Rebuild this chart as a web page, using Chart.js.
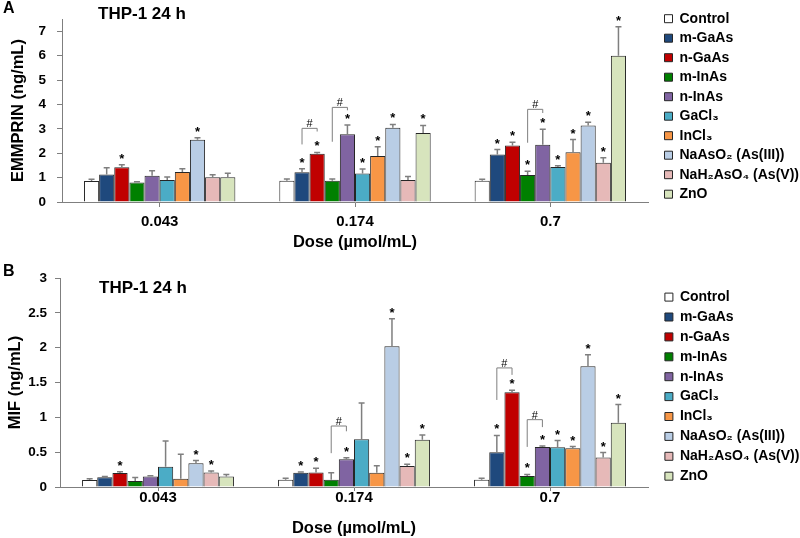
<!DOCTYPE html>
<html>
<head>
<meta charset="UTF-8">
<title>THP-1 24 h: EMMPRIN and MIF</title>
<script src="https://cdn.jsdelivr.net/npm/chart.js@4"></script>
<style>
  body { margin: 0; background: #fff; }
  canvas { display: block; }
</style>
</head>
<body>
<canvas id="emmprinChart" width="800" height="262"></canvas>
<canvas id="mifChart" width="800" height="276"></canvas>
<script>
const doses = ['0.043', '0.174', '0.7'];
const treatments = ['Control', 'm-GaAs', 'n-GaAs', 'm-InAs', 'n-InAs', 'GaCl₃', 'InCl₃',
  'NaAsO₂ (As(III))', 'NaH₂AsO₄ (As(V))', 'ZnO'];
const colors = ['#FFFFFF', '#1F497D', '#C00000', '#008000', '#8064A2', '#4BACC6', '#F79646',
  '#B9CDE5', '#E6B9B8', '#D7E4BD'];

// one row per treatment, one column per dose
const emmprinMean = [
  [0.86, 0.87, 0.87],
  [1.13, 1.22, 1.95],
  [1.43, 1.98, 2.32],
  [0.80, 0.87, 1.11],
  [1.08, 2.78, 2.35],
  [0.90, 1.17, 1.44],
  [1.23, 1.89, 2.04],
  [2.55, 3.04, 3.14],
  [1.01, 0.90, 1.61],
  [1.01, 2.83, 6.00]
];
const emmprinErr = [
  [0.07, 0.07, 0.06],
  [0.27, 0.14, 0.20],
  [0.10, 0.05, 0.13],
  [0.03, 0.07, 0.15],
  [0.20, 0.38, 0.63],
  [0.13, 0.18, 0.05],
  [0.13, 0.38, 0.52],
  [0.08, 0.14, 0.13],
  [0.11, 0.15, 0.20],
  [0.17, 0.31, 1.19]
];
// treatments marked * at each dose
const emmprinStars = [[2, 7], [1, 2, 4, 5, 6, 7, 9], [1, 2, 3, 4, 5, 6, 7, 8, 9]];
// # brackets: dose, from, to, top, left end, right end
const emmprinBrackets = [
  [1, 1, 2, 3.02, 2.36, 2.89],
  [1, 3, 4, 3.88, 2.47, 3.76],
  [2, 3, 4, 3.80, 2.43, 3.65]
];

const mifMean = [
  [0.100, 0.105, 0.105],
  [0.140, 0.205, 0.500],
  [0.200, 0.210, 1.360],
  [0.085, 0.105, 0.157],
  [0.150, 0.400, 0.576],
  [0.290, 0.686, 0.571],
  [0.120, 0.205, 0.557],
  [0.340, 2.020, 1.733],
  [0.210, 0.300, 0.424],
  [0.150, 0.680, 0.924]
];
const mifErr = [
  [0.02, 0.02, 0.02],
  [0.01, 0.01, 0.24],
  [0.02, 0.06, 0.03],
  [0.05, 0.10, 0.024],
  [0.01, 0.02, 0.014],
  [0.37, 0.52, 0.095],
  [0.35, 0.10, 0.024],
  [0.04, 0.395, 0.167],
  [0.02, 0.025, 0.07],
  [0.03, 0.067, 0.26]
];
const mifStars = [[2, 7, 8], [1, 2, 4, 7, 8, 9], [1, 2, 3, 4, 5, 6, 7, 8, 9]];
const mifBrackets = [
  [1, 3, 4, 0.876, 0.486, 0.80],
  [2, 1, 2, 1.71, 1.25, 1.61],
  [2, 3, 4, 0.967, 0.576, 0.86]
];

const FONT = '"Liberation Sans", Arial, sans-serif';
const AXIS_GREY = '#7f7f7f';
Chart.defaults.font.family = FONT;
Chart.defaults.color = '#000';

// error bars, stars and # brackets
const marks = {
  id: 'marks',
  afterDatasetsDraw(chart, args, opts) {
    const ctx = chart.ctx;
    const y = chart.scales.y;
    const topOf = (i, j) => {
      const ds = chart.data.datasets[i];
      return y.getPixelForValue(ds.data[j] + ds.err[j]);
    };
    ctx.save();
    ctx.strokeStyle = AXIS_GREY;
    ctx.lineWidth = 1.5;
    chart.data.datasets.forEach((ds, i) => {
      chart.getDatasetMeta(i).data.forEach((bar, j) => {
        const top = topOf(i, j);
        ctx.beginPath();
        ctx.moveTo(bar.x, bar.y);
        ctx.lineTo(bar.x, top);
        ctx.moveTo(bar.x - 3, top);
        ctx.lineTo(bar.x + 3, top);
        ctx.stroke();
      });
    });

    ctx.fillStyle = '#000';
    ctx.textAlign = 'center';
    ctx.textBaseline = 'alphabetic';
    ctx.font = 'bold 13px ' + FONT;
    opts.stars.forEach((list, j) => {
      list.forEach(i => {
        const bar = chart.getDatasetMeta(i).data[j];
        ctx.fillText('*', bar.x, topOf(i, j) - 2);
      });
    });

    ctx.lineWidth = 1;
    ctx.font = '11px ' + FONT;
    opts.brackets.forEach(([j, a, b, top, leftEnd, rightEnd]) => {
      const xa = chart.getDatasetMeta(a).data[j].x;
      const xb = chart.getDatasetMeta(b).data[j].x;
      const yt = y.getPixelForValue(top);
      ctx.beginPath();
      ctx.moveTo(xa, y.getPixelForValue(leftEnd));
      ctx.lineTo(xa, yt);
      ctx.lineTo(xb, yt);
      ctx.lineTo(xb, y.getPixelForValue(rightEnd));
      ctx.stroke();
      ctx.fillText('#', (xa + xb) / 2, yt - 1);
    });
    ctx.restore();
  }
};

const panelText = {
  id: 'panelText',
  afterDraw(chart, args, opts) {
    const ctx = chart.ctx;
    ctx.save();
    ctx.fillStyle = '#000';
    ctx.textAlign = 'left';
    ctx.textBaseline = 'middle';
    ctx.font = 'bold 16px ' + FONT;
    ctx.fillText(opts.letter, 3, opts.letterY);
    ctx.font = 'bold 17px ' + FONT;
    ctx.fillText('THP-1 24 h', opts.titleX, opts.titleY);
    ctx.restore();
  }
};

function makeChart(id, means, errs, stars, brackets, cfg) {
  const datasets = treatments.map((name, i) => ({
    label: name,
    data: means[i],
    err: errs[i],
    yAxisID: 'y',
    backgroundColor: colors[i],
    borderColor: '#262626',
    borderWidth: 1,
    categoryPercentage: 0.775,
    barPercentage: 1.0
  }));

  return new Chart(document.getElementById(id), {
    type: 'bar',
    data: { labels: doses, datasets: datasets },
    plugins: [marks, panelText],
    options: {
      responsive: false,
      animation: false,
      layout: { padding: { top: cfg.padTop, right: 0, bottom: 0, left: 0 } },
      scales: {
        x: {
          grid: { display: true, drawOnChartArea: false, offset: false, tickLength: cfg.xTickLen, color: AXIS_GREY },
          border: { color: AXIS_GREY },
          ticks: { font: { size: 15, weight: 'bold' }, padding: cfg.xTickPad, color: '#000' },
          title: { display: true, text: 'Dose (µmol/mL)', font: { size: 16.5, weight: 'bold' },
                   padding: { top: 0, bottom: cfg.xTitlePad }, color: '#000' },
          afterFit: s => { s.height = cfg.xHeight; }
        },
        y: {
          min: 0,
          max: cfg.max,
          grid: { display: true, drawOnChartArea: false, tickLength: 5, color: AXIS_GREY },
          border: { color: AXIS_GREY },
          ticks: { stepSize: cfg.step, includeBounds: false, font: { size: 13.5, weight: 'bold' },
                   padding: cfg.yTickPad, color: '#000', callback: v => String(v) },
          title: { display: true, text: cfg.yTitle, font: { size: 16.5, weight: 'bold' },
                   padding: { top: cfg.yTitlePad, bottom: 0 }, color: '#000' },
          afterFit: s => { s.width = cfg.yWidth; }
        },
        yPad: {
          type: 'linear',
          axis: 'y',
          position: 'right',
          display: true,
          grid: { display: false },
          border: { display: false },
          ticks: { display: false },
          afterFit: s => { s.width = cfg.gap; }
        }
      },
      plugins: {
        legend: {
          position: 'right',
          align: 'start',
          maxWidth: 141,
          title: { display: true, text: '', font: { size: 1 }, padding: { top: cfg.legendTop, bottom: 0 } },
          labels: { boxWidth: 8, boxHeight: 8, padding: cfg.legendPad, color: '#000',
                    font: { size: 14, weight: 'bold' } }
        },
        tooltip: { enabled: false },
        marks: { stars: stars, brackets: brackets },
        panelText: cfg.text
      }
    }
  });
}

makeChart('emmprinChart', emmprinMean, emmprinErr, emmprinStars, emmprinBrackets, {
  padTop: 5, max: 7.5, step: 1, yTitle: 'EMMPRIN (ng/mL)',
  xHeight: 60, xTickLen: 5, xTickPad: 6, xTitlePad: 10,
  yWidth: 62, yTickPad: 11, yTitlePad: 8.6,
  gap: 11, legendTop: 0, legendPad: 5.5,
  text: { letter: 'A', letterY: 9, titleX: 98, titleY: 14 }
});

makeChart('mifChart', mifMean, mifErr, mifStars, mifBrackets, {
  padTop: 14, max: 3, step: 0.5, yTitle: 'MIF (ng/mL)',
  xHeight: 51, xTickLen: 4, xTickPad: -2, xTitlePad: 0,
  yWidth: 60, yTickPad: 8, yTitlePad: 5.6,
  gap: 11, legendTop: 7, legendPad: 5.9,
  text: { letter: 'B', letterY: 10, titleX: 99, titleY: 26 }
});
</script>
</body>
</html>
